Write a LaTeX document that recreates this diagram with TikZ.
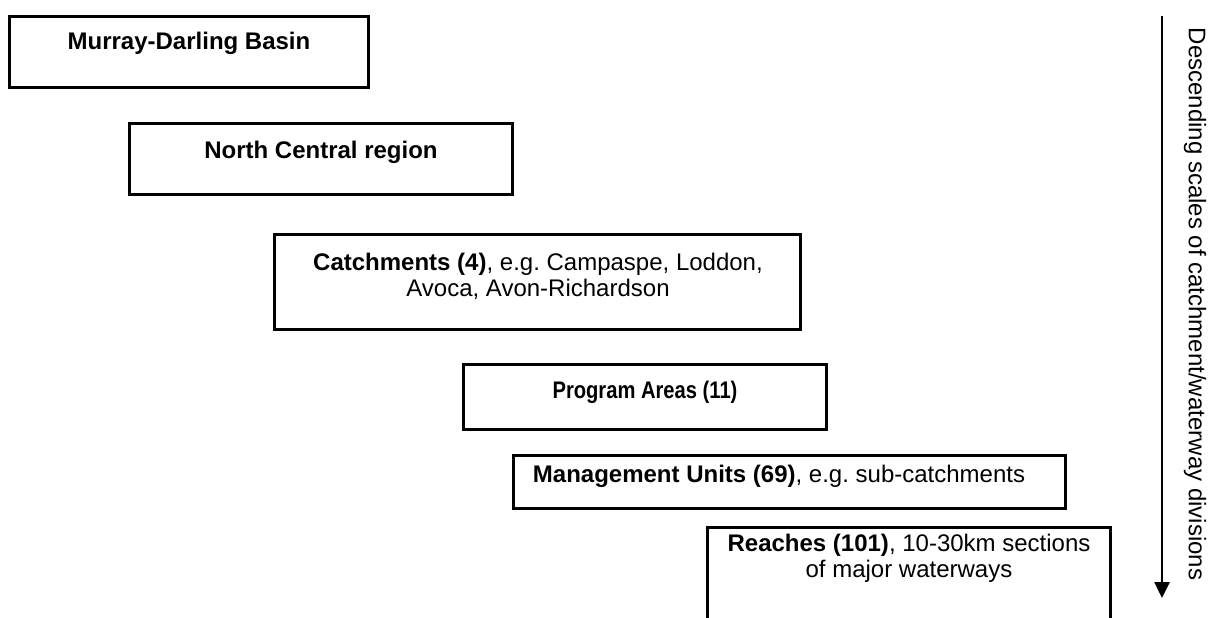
\documentclass[tikz,border=0pt]{standalone}
\usepackage{fontspec}
\setmainfont{Liberation Sans}
\usetikzlibrary{arrows.meta}
\begin{document}
\frenchspacing
\begin{tikzpicture}[x=1pt,y=-1pt,
  box/.style={draw=black, line width=2.6pt, rectangle, inner sep=0pt},
  boxline/.style={draw=black, line width=2.6pt},
  lbl/.style={inner sep=0pt, font=\fontsize{24}{26}\selectfont, align=center},
  arr/.style={line width=2.6pt, -{Triangle[width=15pt,length=16pt]}}]
\useasboundingbox (0,0) rectangle (1212,618);
% boxes
\node[box, minimum width=359pt, minimum height=71pt] (b1) at (189,52) {};
\node[box, minimum width=383pt, minimum height=71pt] (b2) at (321,159) {};
\node[box, minimum width=526pt, minimum height=95pt] (b3) at (537.5,282) {};
\node[box, minimum width=363pt, minimum height=65pt] (b4) at (645,397) {};
\node[box, minimum width=552pt, minimum height=53pt] (b5) at (789.5,482) {};
\coordinate (b6bl) at (707.3,618);
\coordinate (b6br) at (1110.7,618);
\coordinate (b6tr) at (1110.7,527.3);
\draw[boxline] (b6bl) |- (b6tr) -- (b6br);
% labels
\node[lbl, anchor=base] (t1) at (189,50) {\textbf{Murray-Darling Basin}};
\node[lbl, anchor=base] (t2) at (321,158) {\textbf{North Central region}};
\node[lbl, anchor=north] (t3) at (538,252.5) {\textbf{Catchments (4)}, e.g. Campaspe, Loddon,\\ Avoca, Avon-Richardson};
\node[lbl, anchor=base] (t4) at (645,398) {\scalebox{0.84}[1]{\textbf{Program Areas (11)}}};
\node[lbl, anchor=base] (t5) at (779,482) {\textbf{Management Units (69)}, e.g. sub-catchments};
\node[lbl, anchor=north] (t6) at (909,533.5) {\textbf{Reaches (101)}, 10-30km sections\\ of major waterways};
% arrow
\coordinate (a1) at (1162,16);
\coordinate (a2) at (1162,598);
\draw[arr] (a1) -- (a2);
\node[lbl, rotate=-90] (side) at (1195,304) {Descending scales of catchment/waterway divisions};
\end{tikzpicture}
\end{document}
